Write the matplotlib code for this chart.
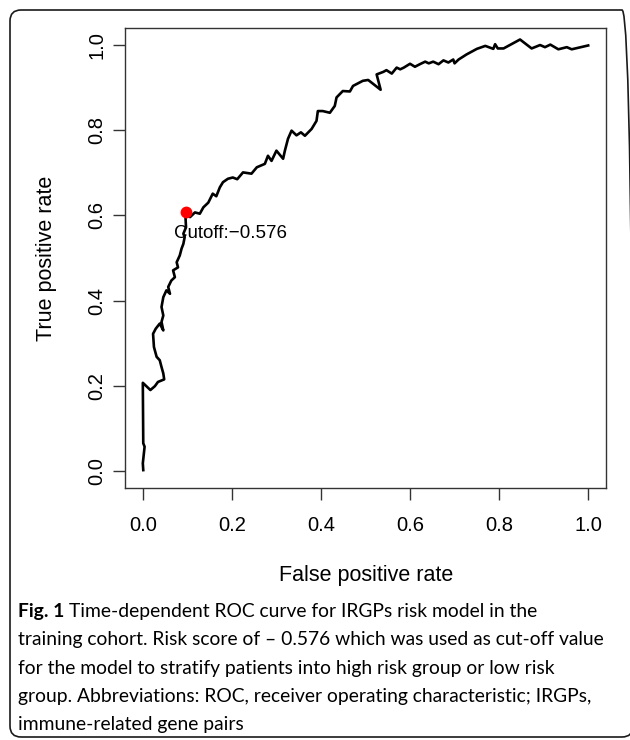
import matplotlib
matplotlib.use("Agg")
import matplotlib.pyplot as plt
from matplotlib.patches import FancyBboxPatch
from matplotlib.transforms import IdentityTransform

# ---------------- data ----------------
fpr = [0.001, 0.000, 0.004, 0.001, 0.000, 0.017, 0.027, 0.034, 0.048, 0.046,
       0.042, 0.038, 0.031, 0.025, 0.023, 0.029, 0.038, 0.046, 0.042, 0.046,
       0.042, 0.046, 0.053, 0.061, 0.057, 0.064, 0.072, 0.068, 0.079, 0.076,
       0.083, 0.087, 0.091, 0.094, 0.091, 0.097, 0.096, 0.096, 0.106, 0.117,
       0.128, 0.136, 0.147, 0.157, 0.165, 0.173, 0.180, 0.191, 0.202, 0.212,
       0.225, 0.244, 0.256, 0.274, 0.281, 0.289, 0.300, 0.315, 0.319, 0.326,
       0.334, 0.345, 0.355, 0.364, 0.379, 0.390, 0.393, 0.404, 0.420, 0.431,
       0.435, 0.449, 0.465, 0.472, 0.483, 0.494, 0.506, 0.517, 0.534, 0.525,
       0.540, 0.547, 0.559, 0.570, 0.578, 0.586, 0.600, 0.611, 0.622, 0.634,
       0.642, 0.652, 0.664, 0.675, 0.686, 0.697, 0.700, 0.709, 0.727, 0.750,
       0.769, 0.787, 0.791, 0.797, 0.810, 0.847, 0.873, 0.892, 0.903, 0.915,
       0.933, 0.952, 0.963, 1.000]
tpr = [0.002, 0.018, 0.057, 0.065, 0.207, 0.190, 0.199, 0.209, 0.215, 0.229,
       0.244, 0.260, 0.268, 0.291, 0.322, 0.334, 0.346, 0.330, 0.350, 0.365,
       0.385, 0.408, 0.424, 0.416, 0.432, 0.447, 0.455, 0.471, 0.478, 0.490,
       0.506, 0.522, 0.533, 0.549, 0.557, 0.572, 0.592, 0.609, 0.596, 0.607,
       0.604, 0.619, 0.630, 0.651, 0.645, 0.666, 0.678, 0.686, 0.689, 0.685,
       0.701, 0.698, 0.713, 0.721, 0.740, 0.728, 0.752, 0.733, 0.752, 0.780,
       0.799, 0.788, 0.795, 0.787, 0.803, 0.822, 0.845, 0.845, 0.841, 0.857,
       0.877, 0.892, 0.891, 0.904, 0.910, 0.916, 0.918, 0.909, 0.895, 0.931,
       0.937, 0.941, 0.933, 0.947, 0.943, 0.947, 0.956, 0.949, 0.955, 0.961,
       0.957, 0.961, 0.955, 0.964, 0.959, 0.966, 0.957, 0.966, 0.978, 0.991,
       0.998, 0.991, 1.002, 0.992, 0.992, 1.013, 0.992, 1.000, 0.995, 1.001,
       0.990, 0.995, 0.990, 0.999]

cutoff_fpr = 0.096
cutoff_tpr = 0.609
cutoff_label = "Cutoff:\u22120.576"

tick_values = [0.0, 0.2, 0.4, 0.6, 0.8, 1.0]
tick_labels = ["0.0", "0.2", "0.4", "0.6", "0.8", "1.0"]

x_label = "False positive rate"
y_label = "True positive rate"

caption_bold = "Fig. 1"
caption_first_rest = "Time-dependent ROC curve for IRGPs risk model in the"
caption_lines = [
    "training cohort. Risk score of \u2013 0.576 which was used as cut-off value",
    "for the model to stratify patients into high risk group or low risk",
    "group. Abbreviations: ROC, receiver operating characteristic; IRGPs,",
    "immune-related gene pairs",
]

# ---------------- figure ----------------
W, H = 630, 740
fig = plt.figure(figsize=(W / 100, H / 100), dpi=100)
fig.patch.set_facecolor("white")

axis_font = "Liberation Sans"
cap_font = "Lato"

# rounded frame around figure + caption
frame = FancyBboxPatch((10, H - 737), 623, 727,
                       boxstyle="round,pad=0,rounding_size=11",
                       transform=IdentityTransform(), fill=False,
                       edgecolor="#1a1a1a", linewidth=1.2)
fig.patches.append(frame)

ax = fig.add_axes([125 / W, 1 - 488 / H, 481 / W, 460 / H])
ax.plot(fpr, tpr, color="black", lw=1.9, solid_joinstyle="round")
ax.plot([cutoff_fpr], [cutoff_tpr], "o", color="red", ms=7.5, zorder=3)
ax.text(0.196, 0.557, cutoff_label, ha="center", va="center",
        fontsize=13.5, family=axis_font)

ax.set_xlim(-0.04, 1.04)
ax.set_ylim(-0.04, 1.04)
ax.set_xticks(tick_values)
ax.set_xticklabels(tick_labels, family=axis_font)
ax.set_yticks(tick_values)
ax.set_yticklabels(tick_labels, family=axis_font, rotation=90, va="center")
ax.tick_params(axis="both", length=8.5, width=1.0, labelsize=14.5,
               color="#333333", direction="out")
ax.tick_params(axis="x", pad=11.5)
ax.tick_params(axis="y", pad=5)
for s in ax.spines.values():
    s.set_linewidth(1.0)
    s.set_color("#333333")

fig.text(366 / W, 1 - 575 / H, x_label, ha="center", va="center",
         fontsize=15.5, family=axis_font)
fig.text(47 / W, 1 - 258 / H, y_label, ha="center", va="center",
         rotation=90, fontsize=15.5, family=axis_font)

# ---------------- caption ----------------
renderer = fig.canvas.get_renderer()
probe = fig.text(0, 0, caption_lines[0], fontsize=10, family=cap_font)
w10 = probe.get_window_extent(renderer).width
probe.remove()
cap_size = 10 * 587 / w10

x0 = 18
baselines = [617, 645.5, 674, 702, 730]
tb = fig.text(x0 / W, 1 - baselines[0] / H, caption_bold, fontsize=cap_size,
              family=cap_font, weight="bold", va="baseline", ha="left")
bx1 = tb.get_window_extent(renderer).x1
fig.text((bx1 + cap_size * 0.3) / W, 1 - baselines[0] / H, caption_first_rest,
         fontsize=cap_size, family=cap_font, va="baseline", ha="left")
for line, yb in zip(caption_lines, baselines[1:]):
    fig.text(x0 / W, 1 - yb / H, line, fontsize=cap_size, family=cap_font,
             va="baseline", ha="left")

fig.savefig("out.png", dpi=100, facecolor="white")
